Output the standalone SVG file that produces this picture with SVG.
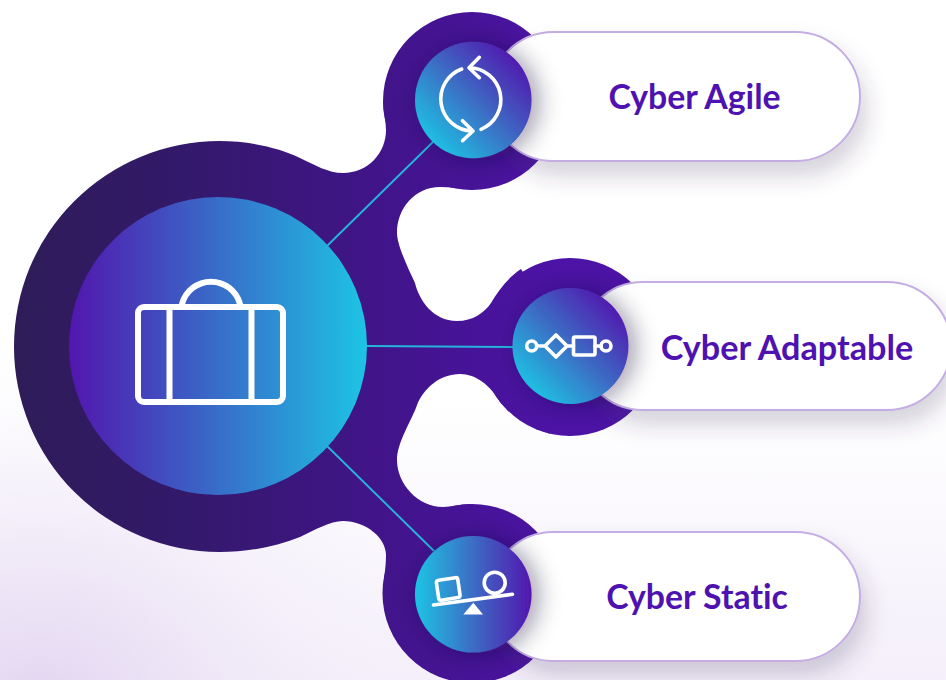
<svg xmlns="http://www.w3.org/2000/svg" width="946" height="680" viewBox="0 0 946 680">
<style>
.ic{fill:none;stroke:#fff;stroke-linecap:round;stroke-linejoin:round}
.pill{fill:#fff;stroke:#c3ade3;stroke-width:2;filter:url(#ps)}
.lb{font-family:"Lato","Liberation Sans",sans-serif;font-weight:700;font-size:33.8px;fill:#4e12b0;text-anchor:middle;font-variant-ligatures:none}
.cn{stroke:#27b4dc;stroke-width:1.9;fill:none}
.bl{fill:url(#blob)}
</style>
<defs>
<linearGradient id="bg" gradientUnits="userSpaceOnUse" x1="0" y1="400" x2="0" y2="680"><stop offset="0" stop-color="#fff"/><stop offset="1" stop-color="#f4effa"/></linearGradient>
<radialGradient id="cor" gradientUnits="userSpaceOnUse" cx="40" cy="720" r="380"><stop offset="0" stop-color="#dfd0ef" stop-opacity=".9"/><stop offset="1" stop-color="#f4effa" stop-opacity="0"/></radialGradient>
<linearGradient id="blob" gradientUnits="userSpaceOnUse" x1="14" y1="0" x2="560" y2="0"><stop offset="0" stop-color="#2e1c58"/><stop offset=".3" stop-color="#33196a"/><stop offset=".7" stop-color="#42148c"/><stop offset="1" stop-color="#4c13a6"/></linearGradient>
<linearGradient id="main" gradientUnits="userSpaceOnUse" x1="69" y1="0" x2="367" y2="0"><stop offset="0" stop-color="#5216ae"/><stop offset="1" stop-color="#1dc4e4"/></linearGradient>
<linearGradient id="d1" x1=".12" y1=".88" x2=".88" y2=".12"><stop offset="0" stop-color="#1dc4e4"/><stop offset=".5" stop-color="#3c6cc4"/><stop offset="1" stop-color="#5216ae"/></linearGradient>
<linearGradient id="h1" x1="0" y1="0" x2="1" y2="0"><stop offset="0" stop-color="#1dc4e4"/><stop offset=".5" stop-color="#3c6cc4"/><stop offset="1" stop-color="#5216ae"/></linearGradient>
<filter id="ps" x="-20%" y="-30%" width="140%" height="180%"><feDropShadow dx="6" dy="14" stdDeviation="11" flood-color="#40385a" flood-opacity=".22"/></filter>
<filter id="cs" x="-40%" y="-40%" width="180%" height="180%"><feDropShadow dx="6" dy="2" stdDeviation="12" flood-color="#1c1030" flood-opacity=".42"/></filter>
</defs>
<rect width="946" height="680" fill="url(#bg)"/>
<rect width="946" height="680" fill="url(#cor)"/>
<g id="connectors">
<g id="blob-shape">
<circle class="bl" cx="472" cy="101" r="89"/>
<circle class="bl" cx="570" cy="347" r="89"/>
<circle class="bl" cx="472" cy="593.5" r="89.5"/>
<path class="bl" d="M219.5 141C250 141 280 148 300 158C315 165 328 173 343 173C368 173 386 153 386 130C386 120 383 110 383 100L473 189C462 190 452 187 440 187C415 187 397 208 397 233C397 245 408 268 415 283C419 300 433 321 457 321C473 321 484 313 491 303C499 289 510 276 521 269L570 347L550 434C530 426 512 415 500 402C490 385 476 374 460 374C440 374 424 388 417 405C412 420 397 442 397 460C397 484 418 507 443 507C452 507 460 504 470 504L472 593L383 594C383 580 386 570 386 555C386 538 366 521 343 521C330 521 315 530 300 537C275 547 247 552 219.5 552A205.5 205.5 0 0 1 219.5 141Z"/>
</g>
<line class="cn" x1="327" y1="246" x2="436" y2="139"/>
<line class="cn" x1="367" y1="346" x2="514" y2="347"/>
<line class="cn" x1="327" y1="446" x2="434" y2="551"/>
</g>
<g id="node-cyber-agile">
<rect class="pill" x="489" y="32" width="371" height="129" rx="64.5"/>
<circle cx="473.3" cy="100" r="58.3" fill="url(#d1)" filter="url(#cs)"/>
<g class="ic" stroke-width="3.6">
<path d="M461.7 69A32 32 0 0 0 472 131M462.5 120.7L473 131L462.5 140.7"/>
<path d="M469 67.7A32 32 0 0 1 481 129.3M479.3 57.3L469 67.7L479.3 77.7"/>
</g>
<text class="lb" x="694.5" y="109">Cyber Agile</text>
</g>
<g id="node-cyber-adaptable">
<rect class="pill" x="579" y="282" width="372" height="128" rx="64"/>
<circle cx="570.5" cy="346" r="58" fill="url(#d1)" filter="url(#cs)"/>
<g class="ic" stroke-width="3.6">
<circle cx="531.7" cy="346" r="5"/><path d="M536.7 346H545L556 335L567 346L556 357L545 346M567 346H573.5"/>
<rect x="573.5" y="337" width="21.5" height="18" rx="1.5"/><path d="M595 346H601"/><circle cx="606" cy="346" r="5"/>
</g>
<text class="lb" x="787" y="360" style="font-size:34.2px">Cyber Adaptable</text>
</g>
<g id="node-cyber-static">
<rect class="pill" x="489" y="532" width="371" height="129" rx="64.5"/>
<circle cx="473.3" cy="594.3" r="58.3" fill="url(#h1)" filter="url(#cs)"/>
<g class="ic" stroke-width="3.6">
<path d="M433.5 605L512.5 594.3"/>
<circle cx="494.7" cy="582.7" r="10.5"/>
<path d="M438.5 580.3L455.3 577.7Q457.5 577.4 457.8 579.5L460 595Q460.3 597.2 458 597.6L441.3 600.2Q439 600.5 438.7 598.3L436.4 582.8Q436.1 580.6 438.5 580.3Z"/>
</g>
<path d="M463.3 614.5H483L473.3 602.7Z" fill="#fff"/>
<text class="lb" x="697" y="609">Cyber Static</text>
</g>
<g id="node-center">
<circle cx="218" cy="346" r="149" fill="url(#main)"/>
<g class="ic" stroke-width="6">
<rect x="138" y="307" width="145" height="95" rx="6"/>
<path d="M169.5 307V402M251.5 307V402M182 304A30 30 0 0 1 240 304"/>
</g>
</g>
</svg>
